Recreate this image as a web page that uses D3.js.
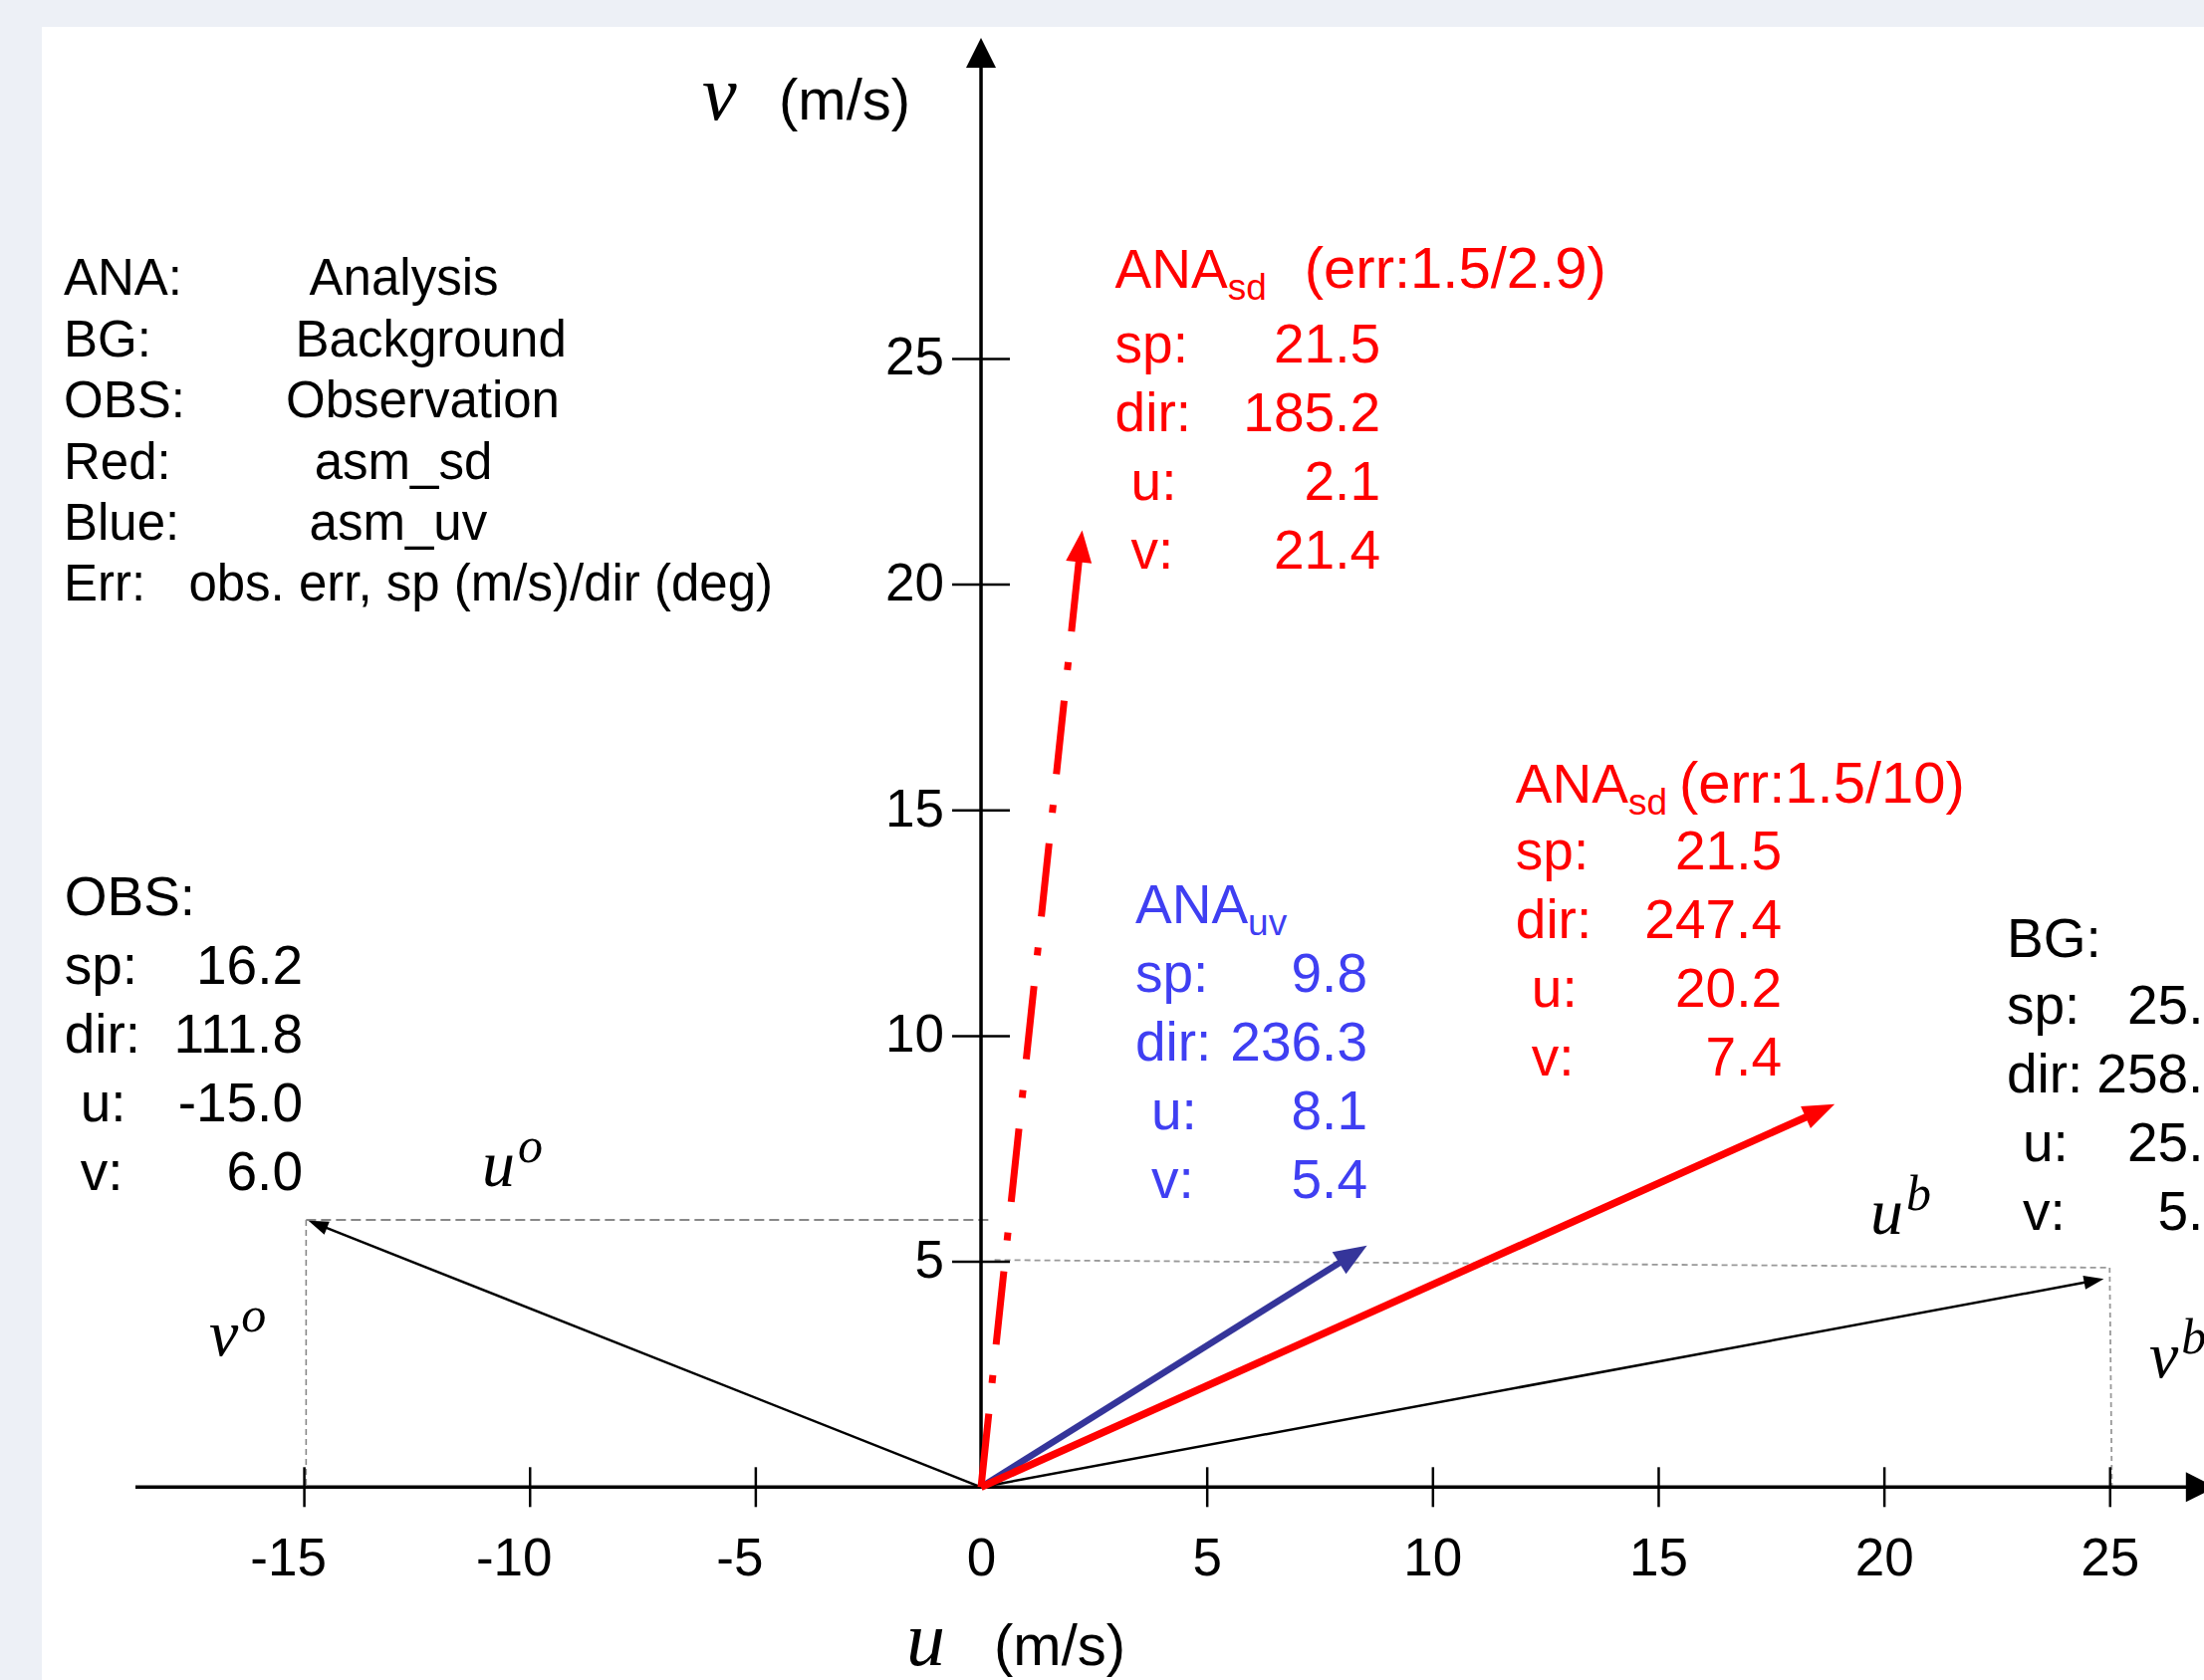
<!DOCTYPE html>
<html>
<head>
<meta charset="utf-8">
<script src="https://cdn.jsdelivr.net/npm/d3@7"></script>
<style>
  html, body { margin: 0; padding: 0; background: #edf0f6; overflow: hidden; }
  svg { display: block; }
  .sans { font-family: 'Liberation Sans', Arial, sans-serif; }
  .math { font-family: 'Liberation Serif', 'DejaVu Serif', serif; font-style: italic; }
</style>
</head>
<body>
<div id="chart"></div>
<script>
// Axis ticks (m/s)
const xTicks = [-15, -10, -5, 0, 5, 10, 15, 20, 25];
const yTicks = [5, 10, 15, 20, 25];

// Vector tips as drawn in the figure (u, v in m/s)
const vectorNames = ['BG', 'OBS', 'ANA_uv', 'ANA_sd_10', 'ANA_sd_2.9'];
const vectorU = [24.87, -14.9, 8.55, 18.91, 2.24];
const vectorV = [4.61, 5.9, 5.35, 8.48, 21.19];

// Component guide lines [u1, v1, u2, v2]
const guideLines = [
    [-14.95, 5.92, 0.2, 5.92],
    [-14.95, 5.92, -14.95, 0],
    [0.3, 5.03, 25.0, 4.86],
    [25.0, 4.86, 25.05, 0]
];
const componentLabels = [['u', 'o'], ['v', 'o'], ['u', 'b'], ['v', 'b']];

// Legend
const legendKeys = ['ANA:', 'BG:', 'OBS:', 'Red:', 'Blue:', 'Err:'];
const legendValues = ['Analysis', 'Background', 'Observation', 'asm_sd', 'asm_uv', 'obs. err, sp (m/s)/dir (deg)'];

// Info blocks
const statLabels = ['sp:', 'dir:', 'u:', 'v:'];
const blockTitles = ['OBS:', 'BG:', 'ANA', 'ANA', 'ANA'];
const blockSubs = ['', '', 'sd', 'uv', 'sd'];
const blockSuffix = ['', '', '(err:1.5/2.9)', '', '(err:1.5/10)'];
const obsStats = ['16.2', '111.8', '-15.0', '6.0'];
const bgStats = ['25.5', '258.2', '25.0', '5.2'];
const anaSdStats1 = ['21.5', '185.2', '2.1', '21.4'];
const anaUvStats = ['9.8', '236.3', '8.1', '5.4'];
const anaSdStats2 = ['21.5', '247.4', '20.2', '7.4'];

const width = 2213;
const height = 1687;
const red = '#ff0000';
const navy = '#35359a';
const blueText = '#3f3ff2';

const svg = d3.select('#chart').append('svg')
    .attr('width', width)
    .attr('height', height);

// slide panel
svg.append('rect')
    .attr('x', 42).attr('y', 27)
    .attr('width', width).attr('height', height)
    .attr('fill', '#fff');

// scales: same px per m/s on both axes
const x = d3.scaleLinear().domain([-18.73, 27.35]).range([136, 2224.8]);
const y = d3.scaleLinear().domain([0, 32.1]).range([1493.3, 38]);

// arrow helper: shaft + filled triangular head
const drawArrow = (g, u0, v0, u1, v1, st) => {
    const xa = x(u0), ya = y(v0), xb = x(u1), yb = y(v1);
    const dx = xb - xa, dy = yb - ya, len = Math.hypot(dx, dy);
    const ux = dx / len, uy = dy / len;
    const bx = xb - ux * st.head, by = yb - uy * st.head;
    g.append('line')
        .attr('x1', xa).attr('y1', ya)
        .attr('x2', bx + ux * 2).attr('y2', by + uy * 2)
        .attr('stroke', st.color)
        .attr('stroke-width', st.width)
        .attr('stroke-dasharray', st.dash || null)
        .attr('stroke-linecap', 'butt');
    g.append('path')
        .attr('d', `M${xb},${yb}L${bx - uy * st.half},${by + ux * st.half}L${bx + uy * st.half},${by - ux * st.half}Z`)
        .attr('fill', st.color);
};

// guide lines
const guideStyles = [
    { dash: '10,5', w: 2, c: '#888' },
    { dash: '6,4', w: 1.6, c: '#888' },
    { dash: '6,4', w: 1.8, c: '#999' },
    { dash: '5,4', w: 1.8, c: '#999' }
];
svg.append('g').selectAll('line')
    .data(guideLines)
    .enter().append('line')
    .attr('x1', d => x(d[0])).attr('y1', d => y(d[1]))
    .attr('x2', d => x(d[2])).attr('y2', d => y(d[3]))
    .attr('stroke', (d, i) => guideStyles[i].c)
    .attr('stroke-width', (d, i) => guideStyles[i].w)
    .attr('stroke-dasharray', (d, i) => guideStyles[i].dash);

// x axis ticks and labels
const fontFam = "'Liberation Sans', Arial, sans-serif";
const xAxisG = svg.append('g')
    .attr('transform', `translate(0,${y(0)})`)
    .call(d3.axisBottom(x).tickValues(xTicks).tickSize(20).tickPadding(31).tickFormat(d => String(d)))
    .attr('font-size', 53)
    .attr('font-family', fontFam);
xAxisG.select('.domain').remove();
xAxisG.selectAll('.tick line')
    .attr('y1', -20).attr('y2', 20)
    .attr('stroke', '#000').attr('stroke-width', 2.5)
    .filter(d => d === 0).remove();
xAxisG.selectAll('.tick text')
    .attr('fill', '#000')
    .attr('dx', d => d < 0 ? -16 : 0);

// y axis ticks and labels
const yAxisG = svg.append('g')
    .attr('transform', `translate(${x(0)},0)`)
    .call(d3.axisLeft(y).tickValues(yTicks).tickSize(29).tickPadding(8).tickFormat(d => String(d)))
    .attr('font-size', 53)
    .attr('font-family', fontFam);
yAxisG.select('.domain').remove();
yAxisG.selectAll('.tick line')
    .attr('x1', 29)
    .attr('stroke', '#000').attr('stroke-width', 2.5);
yAxisG.selectAll('.tick text').attr('fill', '#000').attr('dy', '0.3em');

// axis lines with arrowheads
const axesG = svg.append('g');
drawArrow(axesG, x.domain()[0], 0, x.domain()[1], 0, { color: '#000', width: 3.5, head: 30, half: 15 });
drawArrow(axesG, 0, 0, 0, y.domain()[1], { color: '#000', width: 3.5, head: 30, half: 15 });

// wind vectors
const vectorStyles = [
    { color: '#000', width: 2.5, head: 20, half: 7 },
    { color: '#000', width: 2.5, head: 20, half: 7 },
    { color: navy, width: 6.5, head: 33, half: 13 },
    { color: red, width: 7.5, head: 32, half: 12 },
    { color: red, width: 7, head: 32, half: 13, dash: '74,31,8,31' }
];
const vecG = svg.append('g');
vectorNames.forEach((name, i) => {
    drawArrow(vecG, 0, 0, vectorU[i], vectorV[i], vectorStyles[i]);
});

// component labels (u^o, v^o, u^b, v^b)
const compPos = [[484, 1191], [210, 1361], [1878, 1239], [2158, 1383]];
componentLabels.forEach((lab, i) => {
    const t = svg.append('text')
        .attr('class', 'math')
        .attr('x', compPos[i][0]).attr('y', compPos[i][1])
        .attr('font-size', 66)
        .attr('fill', '#000');
    t.append('tspan').text(lab[0]);
    t.append('tspan').attr('font-size', 50).attr('dy', -24).attr('dx', 3).text(lab[1]);
});

// axis unit labels
const unitLabels = [
    { sym: 'v', sx: 705, tx: 782, y: 120 },
    { sym: 'u', sx: 910, tx: 998, y: 1672 }
];
unitLabels.forEach(d => {
    svg.append('text').attr('class', 'math')
        .attr('x', d.sx).attr('y', d.y)
        .attr('font-size', 78).text(d.sym);
    svg.append('text').attr('class', 'sans')
        .attr('x', d.tx).attr('y', d.y)
        .attr('font-size', 58).text('(m/s)');
});

// legend, top left
const legendValueX = [310.6, 296.6, 287, 315.7, 310.6, 189.4];
const legendG = svg.append('g').attr('class', 'sans').attr('font-size', 51).attr('fill', '#000');
legendKeys.forEach((k, i) => {
    const yy = 296.4 + i * 61.4;
    legendG.append('text').attr('x', 64).attr('y', yy).text(k);
    legendG.append('text').attr('x', legendValueX[i]).attr('y', yy).text(legendValues[i]);
});

// info blocks
const blockStats = [obsStats, bgStats, anaSdStats1, anaUvStats, anaSdStats2];
const blockLayout = [
    { x: 64.7, ty: 919, ry: 988.4, vx: 304, color: '#000', gap: 0 },
    { x: 2015, ty: 961, ry: 1028, vx: 2243, color: '#000', gap: 0 },
    { x: 1119.6, ty: 289, ry: 364, vx: 1386, color: red, gap: 38 },
    { x: 1140, ty: 926.6, ry: 995.5, vx: 1373, color: blueText, gap: 0 },
    { x: 1521.8, ty: 806, ry: 873, vx: 1789, color: red, gap: 12 }
];
blockTitles.forEach((title, i) => {
    const L = blockLayout[i];
    const g = svg.append('g').attr('class', 'sans').attr('font-size', 55).attr('fill', L.color);
    const t = g.append('text').attr('x', L.x).attr('y', L.ty);
    t.append('tspan').text(title);
    if (blockSubs[i]) {
        t.append('tspan').attr('font-size', 37).attr('dy', 12).text(blockSubs[i]);
    }
    if (blockSuffix[i]) {
        t.append('tspan').attr('font-size', 58).attr('dy', -12).attr('dx', L.gap).text(blockSuffix[i]);
    }
    statLabels.forEach((lab, j) => {
        const yy = L.ry + j * 69;
        g.append('text').attr('x', L.x + (j >= 2 ? 16 : 0)).attr('y', yy).text(lab);
        g.append('text').attr('x', L.vx).attr('y', yy)
            .attr('text-anchor', 'end').text(blockStats[i][j]);
    });
});
</script>
</body>
</html>
